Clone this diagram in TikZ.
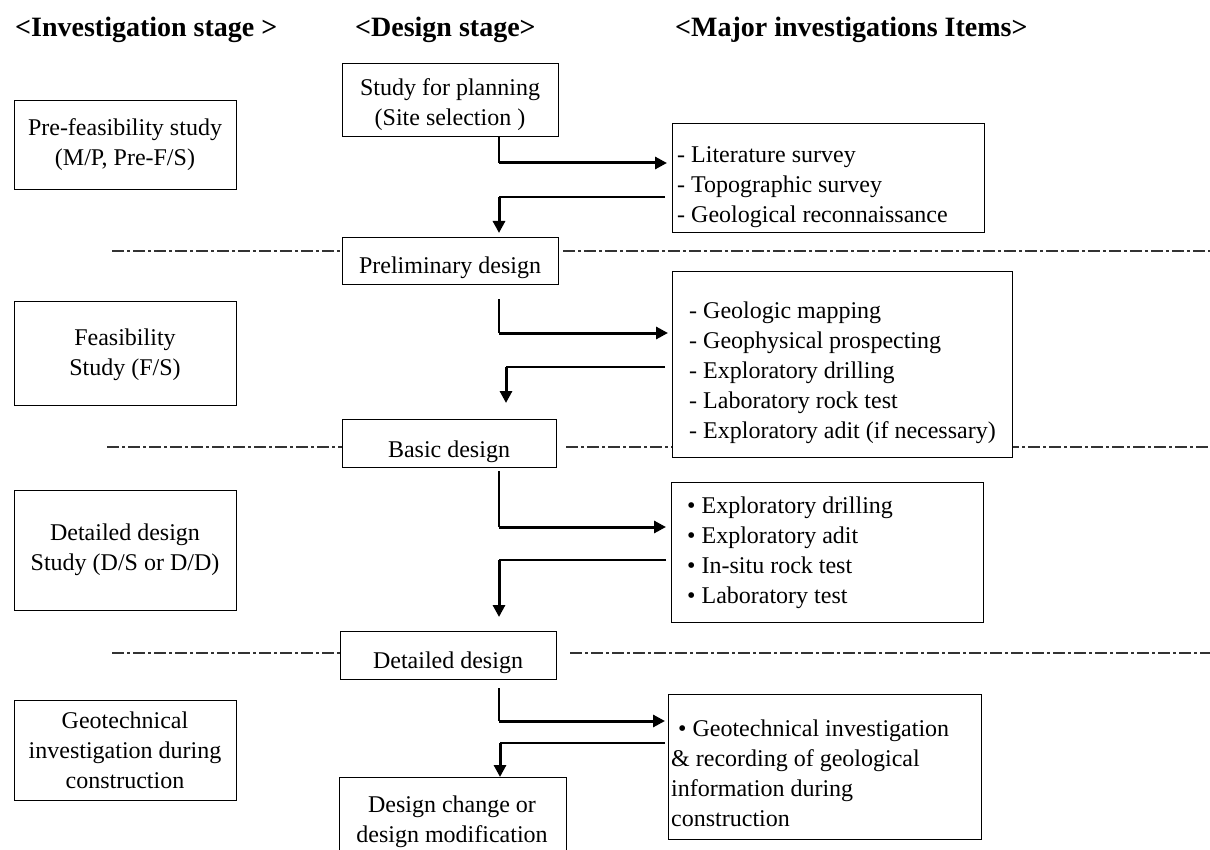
\documentclass[tikz,border=0pt]{standalone}
\usepackage{fontspec}
\setmainfont{Liberation Serif}
\usetikzlibrary{arrows.meta,calc}
\begin{document}
\begin{tikzpicture}[x=1pt,y=-1pt,
  box/.style={draw=black, line width=1.4pt, fill=white, inner sep=0pt, anchor=north west},
  txt/.style={font=\fontsize{24}{30}\selectfont, inner sep=0pt, align=center},
  ltxt/.style={font=\fontsize{24}{30}\selectfont, inner sep=0pt, align=left, anchor=west},
  hdr/.style={font=\fontsize{28}{34}\selectfont\bfseries, inner sep=0pt, anchor=base west},
  sepline/.style={line width=1.3pt, draw=black!80, dash pattern=on 12pt off 3pt on 3pt off 3pt},
  thinline/.style={line width=1.4pt},
  thickarrow/.style={line width=3pt, -{Triangle[length=12pt,width=12pt]}},
]
\useasboundingbox (0,0) rectangle (1210,850);

% headers
\node[hdr] (h1) at (15,37) {<Investigation stage >};
\node[hdr] (h2) at (355,37) {<Design stage>};
\node[hdr] (h3) at (675,37) {<Major investigations Items>};

% separator lines
\draw[sepline] (112,251) -- (342,251);
\draw[sepline] (563,251) -- (1210,251);
\draw[sepline] (107,447) -- (342,447);
\draw[sepline] (566,447) -- (1210,447);
\draw[sepline] (112,653) -- (340,653);
\draw[sepline] (570,653) -- (1210,653);

% left boxes
\node[box, minimum width=222pt, minimum height=89pt] (l1) at (14,100) {};
\node[txt] (l1t) at (125,145) {Pre-feasibility study\\(M/P, Pre-F/S)};
\node[box, minimum width=222pt, minimum height=104pt] (l2) at (14,301) {};
\node[txt] (l2t) at (125,355) {Feasibility\\Study (F/S)};
\node[box, minimum width=222pt, minimum height=120pt] (l3) at (14,490) {};
\node[txt] (l3t) at (125,550) {Detailed design\\Study (D/S or D/D)};
\node[box, minimum width=222pt, minimum height=100pt] (l4) at (14,700) {};
\node[txt] (l4t) at (125,750) {Geotechnical\\investigation during\\construction};

% middle boxes
\node[box, minimum width=216pt, minimum height=73pt] (m1) at (342,63) {};
\node[txt] (m1t) at (450,105) {Study for planning\\(Site selection )};
\node[box, minimum width=216pt, minimum height=47pt] (m2) at (342,237) {};
\node[txt] (m2t) at (450,268) {Preliminary design};
\node[box, minimum width=214pt, minimum height=48pt] (m3) at (342,419) {};
\node[txt] (m3t) at (449,452) {Basic design};
\node[box, minimum width=216pt, minimum height=48pt] (m4) at (340,631) {};
\node[txt] (m4t) at (448,663) {Detailed design};
\node[box, minimum width=227pt, minimum height=85pt] (m5) at (339,777) {};
\node[txt] (m5t) at (452,822) {Design change or\\design modification};

% right boxes
\node[box, minimum width=312pt, minimum height=109pt] (r1) at (672,123) {};
\node[ltxt] (r1t) at (677,187) {- Literature survey\\- Topographic survey\\- Geological reconnaissance};
\node[box, minimum width=340pt, minimum height=186pt] (r2) at (672,271) {};
\node[ltxt] (r2t) at (689,373) {- Geologic mapping\\- Geophysical prospecting\\- Exploratory drilling\\- Laboratory rock test\\- Exploratory adit (if necessary)};
\node[box, minimum width=312pt, minimum height=140pt] (r3) at (671,482) {};
\node[ltxt] (r3t) at (687,553) {• Exploratory drilling\\• Exploratory adit\\• In-situ rock test\\• Laboratory test};
\node[box, minimum width=313pt, minimum height=145pt] (r4) at (668,694) {};
\node[ltxt] (r4t) at (671,773) {\hspace*{7pt}• Geotechnical investigation\\\& recording of geological\\information during\\construction};

% connectors
\coordinate (a1) at (499,163);
\draw[thinline] (m1.south -| a1) -- (a1);
\draw[thickarrow] (a1) -- ([xshift=-5pt]r1.west |- a1);
\coordinate (b1) at (499,197);
\draw[thinline] ([xshift=-7pt]r1.west |- b1) -- (b1);
\draw[thickarrow] (b1) -- ($(m2.north -| b1)+(0,-4)$);

\coordinate (a2) at (499,333);
\draw[thinline] ($(m2.south -| a2)+(0,14)$) -- (a2);
\draw[thickarrow] (a2) -- ([xshift=-4pt]r2.west |- a2);
\coordinate (b2) at (506,367);
\draw[thinline] ([xshift=-7pt]r2.west |- b2) -- (b2);
\draw[thickarrow] (b2) -- ($(m3.north -| b2)+(0,-16)$);

\coordinate (a3) at (499,527);
\draw[thinline] ($(m3.south -| a3)+(0,3)$) -- (a3);
\draw[thickarrow] (a3) -- ([xshift=-5pt]r3.west |- a3);
\coordinate (b3) at (499,560);
\draw[thinline] ([xshift=-5pt]r3.west |- b3) -- (b3);
\draw[thickarrow] (b3) -- ($(m4.north -| b3)+(0,-14)$);

\coordinate (a4) at (499,721);
\draw[thinline] ($(m4.south -| a4)+(0,8)$) -- (a4);
\draw[thickarrow] (a4) -- ([xshift=-3pt]r4.west |- a4);
\coordinate (b4) at (500,743);
\draw[thinline] ([xshift=-3pt]r4.west |- b4) -- (b4);
\draw[thickarrow] (b4) -- (m5.north -| b4);
\end{tikzpicture}
\end{document}
